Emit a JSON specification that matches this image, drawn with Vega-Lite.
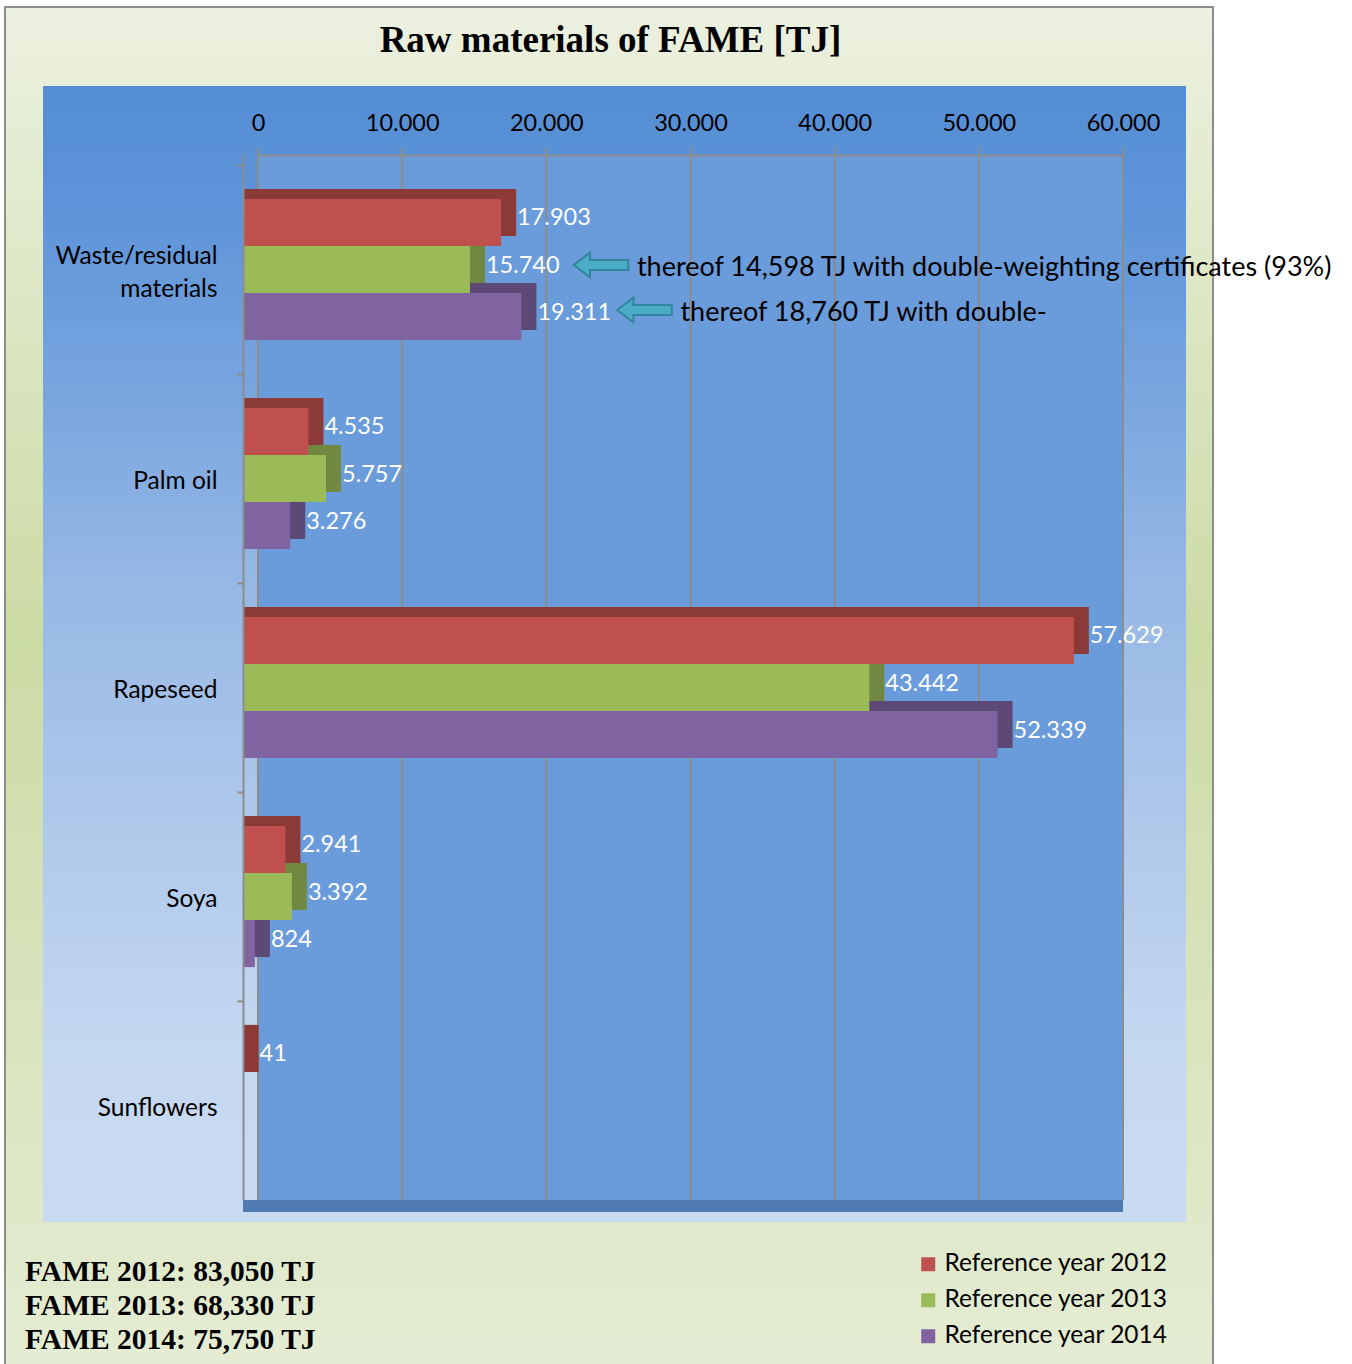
{
  "$schema": "https://vega.github.io/schema/vega-lite/v6.json",
  "width": 865,
  "height": 1045,
  "autosize": {"type": "none"},
  "padding": {"left": 258, "top": 155, "right": 229, "bottom": 164},
  "background": "#ffffff",
  "title": {"text": "Raw materials of FAME [TJ]", "font": "Liberation Serif", "fontSize": 37, "fontWeight": "bold", "color": "#000000", "anchor": "middle", "frame": "group", "dx": -80, "offset": -54, "zindex": 1},
  "config": {
    "font": "Lato",
    "view": {"stroke": null},
    "locale": {"number": {"decimal": ",", "thousands": ".", "grouping": [3], "currency": ["", " €"]}}
  },
  "datasets": {
    "bars": [
      {"category": "Waste/residual materials", "year": "2012", "value": 17903},
      {"category": "Waste/residual materials", "year": "2013", "value": 15740},
      {"category": "Waste/residual materials", "year": "2014", "value": 19311},
      {"category": "Palm oil", "year": "2012", "value": 4535},
      {"category": "Palm oil", "year": "2013", "value": 5757},
      {"category": "Palm oil", "year": "2014", "value": 3276},
      {"category": "Rapeseed", "year": "2012", "value": 57629},
      {"category": "Rapeseed", "year": "2013", "value": 43442},
      {"category": "Rapeseed", "year": "2014", "value": 52339},
      {"category": "Soya", "year": "2012", "value": 2941},
      {"category": "Soya", "year": "2013", "value": 3392},
      {"category": "Soya", "year": "2014", "value": 824},
      {"category": "Sunflowers", "year": "2012", "value": 41}
    ],
    "notes": [
      {"category": "Waste/residual materials", "year": "2013", "value": 15740, "note": "thereof 14,598 TJ with double-weighting certificates (93%)"},
      {"category": "Waste/residual materials", "year": "2014", "value": 19311, "note": "thereof 18,760 TJ with double-"}
    ],
    "ticks": [{"tick": 0}, {"tick": 10000}, {"tick": 20000}, {"tick": 30000}, {"tick": 40000}, {"tick": 50000}, {"tick": 60000}],
    "totals": [
      {"year": "2012", "label": "FAME 2012: 83,050 TJ"},
      {"year": "2013", "label": "FAME 2013: 68,330 TJ"},
      {"year": "2014", "label": "FAME 2014: 75,750 TJ"}
    ],
    "one": [{"k": 1}]
  },
  "layer": [
    {
      "data": {"name": "one"},
      "mark": {"type": "rect", "stroke": "#8c8c8c", "strokeWidth": 2,
        "fill": {"gradient": "linear", "x1": 0, "y1": 0, "x2": 0, "y2": 1, "stops": [{"offset": 0, "color": "#ecf1e0"}, {"offset": 0.45, "color": "#cbdba5"}, {"offset": 1, "color": "#e6edd6"}]}},
      "encoding": {
        "x": {"datum": -17549, "type": "quantitative", "scale": {"domain": [0, 60000], "nice": false, "zero": false},
          "axis": {"orient": "top", "values": [0, 10000, 20000, 30000, 40000, 50000, 60000], "format": ",d", "title": null,
            "labelFont": "Lato", "labelFontSize": 23.5, "labelColor": "#000000", "labelPadding": 12, "labelFlush": false, "labelOverlap": false,
            "tickSize": 8, "tickColor": "#8c8c8c", "tickWidth": 2, "domainColor": "#8c8c8c", "domainWidth": 2, "grid": false, "zindex": 1}},
        "x2": {"datum": 66243},
        "y": {"datum": 1.1416, "type": "quantitative", "scale": {"domain": [0, 1], "nice": false, "zero": false}, "axis": null},
        "y2": {"datum": -0.2}
      }
    },
    {
      "data": {"name": "one"},
      "mark": {"type": "rect",
        "fill": {"gradient": "linear", "x1": 0, "y1": 0, "x2": 0, "y2": 1, "stops": [{"offset": 0, "color": "#548dd4"}, {"offset": 0.12, "color": "#5f95d9"}, {"offset": 0.45, "color": "#98b9e5"}, {"offset": 0.85, "color": "#c5d8f1"}, {"offset": 1, "color": "#c9dbf2"}]}},
      "encoding": {
        "x": {"datum": -14913, "type": "quantitative", "scale": {"domain": [0, 60000], "nice": false, "zero": false}},
        "x2": {"datum": 64370},
        "y": {"datum": 1.066, "type": "quantitative", "scale": {"domain": [0, 1], "nice": false, "zero": false}, "axis": null},
        "y2": {"datum": -0.02105}
      }
    },
    {
      "data": {"name": "one"},
      "mark": {"type": "rect", "fill": "#6a9bdb"},
      "encoding": {
        "x": {"datum": 0, "type": "quantitative", "scale": {"domain": [0, 60000], "nice": false, "zero": false}},
        "x2": {"datum": 60000},
        "y": {"datum": 1, "type": "quantitative", "scale": {"domain": [0, 1], "nice": false, "zero": false}, "axis": null},
        "y2": {"datum": 0}
      }
    },
    {
      "data": {"name": "one"},
      "mark": {"type": "rect", "fill": "#4f7ab3"},
      "encoding": {
        "x": {"datum": -1040, "type": "quantitative", "scale": {"domain": [0, 60000], "nice": false, "zero": false}},
        "x2": {"datum": 60000},
        "y": {"datum": 0, "type": "quantitative", "scale": {"domain": [0, 1], "nice": false, "zero": false}, "axis": null},
        "y2": {"datum": -0.0115}
      }
    },
    {
      "data": {"name": "ticks"},
      "mark": {"type": "rule", "color": "#8c8c8c", "strokeWidth": 2},
      "encoding": {
        "x": {"field": "tick", "type": "quantitative", "scale": {"domain": [0, 60000], "nice": false, "zero": false}}
      }
    },
    {
      "data": {"name": "totals"},
      "mark": {"type": "text", "align": "left", "baseline": "middle", "font": "Liberation Serif", "fontSize": 29.5, "fontWeight": "bold", "fill": "#000000"},
      "encoding": {
        "x": {"datum": -16162, "type": "quantitative", "scale": {"domain": [0, 60000], "nice": false, "zero": false}},
        "y": {"field": "year", "type": "ordinal", "scale": {"type": "point", "domain": ["2012", "2013", "2014"], "range": [1117, 1185], "padding": 0}, "axis": null},
        "text": {"field": "label"}
      }
    },
    {
      "data": {"name": "bars"},
      "encoding": {
        "x": {"field": "value", "type": "quantitative", "stack": null,
          "scale": {"domain": [0, 60000], "nice": false, "zero": false}},
        "y": {"field": "category", "type": "nominal",
          "scale": {"domain": ["Waste/residual materials", "Palm oil", "Rapeseed", "Soya", "Sunflowers"], "paddingInner": 0, "paddingOuter": 0},
          "axis": {"orient": "left", "offset": 15, "title": null, "labelFont": "Lato", "labelFontSize": 24.5, "labelColor": "#000000",
            "labelPadding": 20, "labelOffset": {"condition": {"test": "datum.value == 'Waste/residual materials'", "value": -13}, "value": 3},
            "tickOffset": 10, "bandPosition": 0, "tickSize": 6, "tickColor": "#8c8c8c", "tickWidth": 2,
            "domainColor": "#8c8c8c", "domainWidth": 2, "grid": false, "zindex": 1, "labelLimit": 300, "labelLineHeight": 33,
            "labelExpr": "datum.value == 'Waste/residual materials' ? ['Waste/residual', 'materials'] : datum.label"}}
      },
      "layer": [
        {
          "mark": {"type": "bar", "x2Offset": -15},
          "encoding": {
            "x2": {"datum": 0},
            "yOffset": {"field": "year", "type": "nominal", "scale": {"domain": ["2012", "2013", "2014"], "range": [0, 209], "paddingInner": 0, "paddingOuter": 0.72}},
            "color": {"field": "year", "type": "nominal", "scale": {"domain": ["2012", "2013", "2014"], "range": ["#c0504d", "#9bbb59", "#8064a2"]},
              "legend": {"orient": "none", "legendX": 658, "legendY": 1097, "title": null, "symbolType": "square", "symbolSize": 196, "symbolStrokeWidth": 0,
                "labelFont": "Lato", "labelFontSize": 24.5, "labelColor": "#000000", "rowPadding": 11, "labelLimit": 400, "zindex": 1,
                "labelExpr": "'Reference year ' + datum.label"}}
          }
        },
        {
          "mark": {"type": "bar", "color": "#000000", "opacity": 0.27, "x2Offset": -15},
          "encoding": {
            "x2": {"datum": 0},
            "yOffset": {"field": "year", "type": "nominal", "scale": {"domain": ["2012", "2013", "2014"], "range": [0, 209], "paddingInner": 0, "paddingOuter": 0.72}}
          }
        },
        {
          "mark": {"type": "bar", "xOffset": -15, "x2Offset": -15},
          "encoding": {
            "x2": {"datum": 0},
            "yOffset": {"field": "year", "type": "nominal", "scale": {"domain": ["2012", "2013", "2014"], "range": [10, 219], "paddingInner": 0, "paddingOuter": 0.72}},
            "color": {"field": "year", "type": "nominal", "scale": {"domain": ["2012", "2013", "2014"], "range": ["#c0504d", "#9bbb59", "#8064a2"]}}
          }
        },
        {
          "mark": {"type": "text", "align": "left", "baseline": "middle", "dx": 1, "dy": -4, "fill": "#ffffff", "font": "Lato", "fontSize": 23.5},
          "encoding": {
            "yOffset": {"field": "year", "type": "nominal", "scale": {"type": "band", "domain": ["2012", "2013", "2014"], "range": [10, 219], "paddingInner": 0, "paddingOuter": 0.72}},
            "text": {"field": "value", "type": "quantitative", "format": ",d"}
          }
        },
        {
          "data": {"name": "notes"},
          "transform": [{"filter": "datum.year == '2013'"}],
          "mark": {"type": "point", "shape": "M -1 0 L -0.4 -0.45 L -0.4 -0.18 L 1 -0.18 L 1 0.18 L -0.4 0.18 L -0.4 0.45 Z", "filled": true, "size": 3000, "fill": "#4bacc6", "stroke": "#31859c", "strokeWidth": 2, "opacity": 1, "xOffset": 116},
          "encoding": {
            "yOffset": {"field": "year", "type": "nominal", "scale": {"type": "band", "domain": ["2012", "2013", "2014"], "range": [5.5, 214.5], "paddingInner": 0, "paddingOuter": 0.72}}
          }
        },
        {
          "data": {"name": "notes"},
          "transform": [{"filter": "datum.year == '2014'"}],
          "mark": {"type": "point", "shape": "M -1 0 L -0.4 -0.45 L -0.4 -0.18 L 1 -0.18 L 1 0.18 L -0.4 0.18 L -0.4 0.45 Z", "filled": true, "size": 3000, "fill": "#4bacc6", "stroke": "#31859c", "strokeWidth": 2, "opacity": 1, "xOffset": 108},
          "encoding": {
            "yOffset": {"field": "year", "type": "nominal", "scale": {"type": "band", "domain": ["2012", "2013", "2014"], "range": [3.4, 212.4], "paddingInner": 0, "paddingOuter": 0.72}}
          }
        },
        {
          "data": {"name": "notes"},
          "transform": [{"filter": "datum.year == '2013'"}],
          "mark": {"type": "text", "align": "left", "baseline": "middle", "dx": 152, "dy": -2, "fill": "#000000", "font": "Lato", "fontSize": 27},
          "encoding": {
            "yOffset": {"field": "year", "type": "nominal", "scale": {"type": "band", "domain": ["2012", "2013", "2014"], "range": [10, 219], "paddingInner": 0, "paddingOuter": 0.72}},
            "text": {"field": "note"}
          }
        },
        {
          "data": {"name": "notes"},
          "transform": [{"filter": "datum.year == '2014'"}],
          "mark": {"type": "text", "align": "left", "baseline": "middle", "dx": 144, "dy": -4, "fill": "#000000", "font": "Lato", "fontSize": 27},
          "encoding": {
            "yOffset": {"field": "year", "type": "nominal", "scale": {"type": "band", "domain": ["2012", "2013", "2014"], "range": [10, 219], "paddingInner": 0, "paddingOuter": 0.72}},
            "text": {"field": "note"}
          }
        }
      ],
      "resolve": {"scale": {"yOffset": "independent"}}
    }
  ],
  "resolve": {"scale": {"y": "independent"}}
}
